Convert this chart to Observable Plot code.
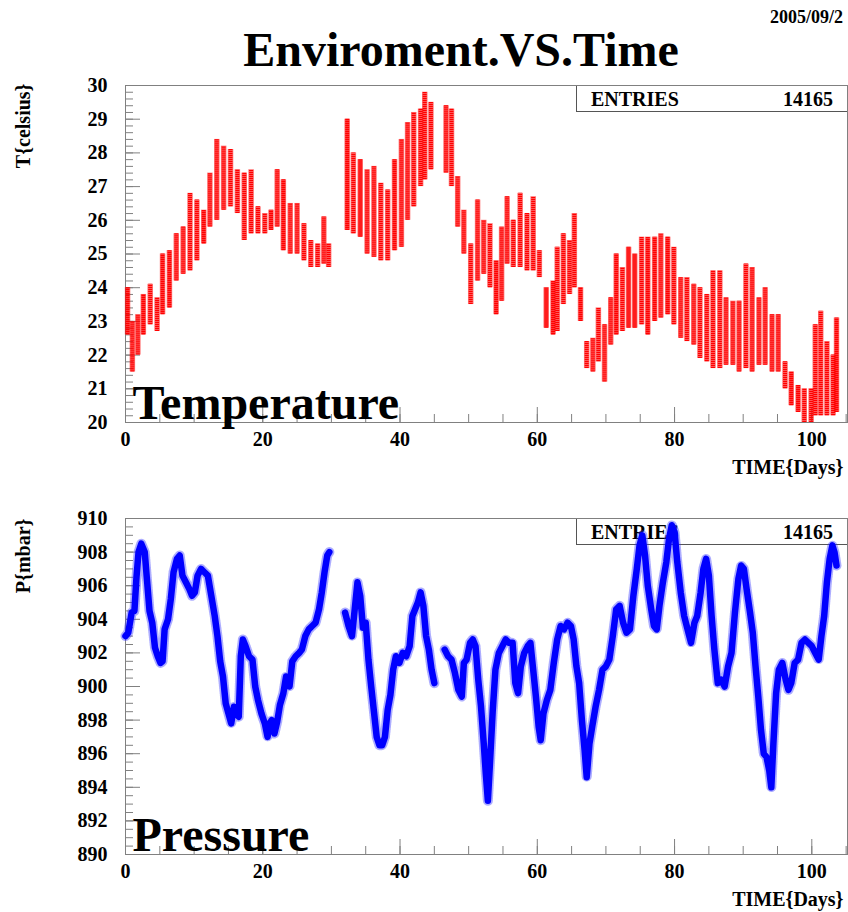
<!DOCTYPE html>
<html>
<head>
<meta charset="utf-8">
<script src="https://cdn.jsdelivr.net/npm/d3@7"></script>
<script src="https://cdn.jsdelivr.net/npm/@observablehq/plot@0.6"></script>
<style>
  html, body { margin: 0; padding: 0; background: #fff; }
  #wrap { position: relative; width: 848px; height: 912px; overflow: hidden;
          font-family: "Liberation Serif", "Times New Roman", serif; font-weight: bold; color: #000; }
  .abs { position: absolute; white-space: nowrap; }
  .box { position: absolute; border: 1px solid #555; box-sizing: border-box; background: #fff; }
  svg { position: absolute; left: 0; }
</style>
</head>
<body>
<div id="wrap"></div>
<script>
// ---------- data ----------
const chartTitle = "Enviroment.VS.Time";
const dateStamp = "2005/09/2";
const entries = [14165, 14165];
const panelLabels = ["Temperature", "Pressure"];
const yTitles = ["T{celsius}", "P{mbar}"];
const xTitle = "TIME{Days}";

// temperature: day position, daily low and high (celsius)
const tempDays = [0.3, 1.0, 1.8, 2.6, 3.6, 4.6, 5.4, 6.4, 7.4, 8.4, 9.4, 10.4, 11.4, 12.3, 13.3, 14.3, 15.3, 16.3, 17.3, 18.3, 19.3, 20.3, 21.2, 22.1, 23.0, 24.0, 25.0, 26.0, 27.0, 28.0, 28.9, 29.6,
  32.3, 33.2, 34.2, 35.2, 36.2, 37.2, 38.2, 39.2, 40.2, 41.1, 42.0, 43.0, 43.6, 44.5,
  46.7, 47.5, 48.4, 49.3, 50.3, 51.3, 52.2, 53.1, 54.0, 54.8, 55.6, 56.5, 57.5, 58.5, 59.4, 60.3, 61.3, 62.3, 62.9, 63.8, 64.7, 65.4, 66.3, 67.2, 68.1, 68.9, 69.8, 70.7, 71.5, 72.4, 73.3, 74.2, 75.2, 76.1, 77.1, 78.0, 79.0, 79.9, 80.9, 81.8, 82.8, 83.7, 84.7, 85.6, 86.6, 87.5, 88.5, 89.4, 90.4, 91.3, 92.3, 93.2, 94.2, 95.1, 96.1, 97.0, 98.0, 98.9, 99.9, 100.5, 101.3, 102.2, 103.1, 103.6];
const tempLow = [22.6, 21.5, 22.0, 22.6, 22.9, 22.7, 23.2, 23.4, 24.2, 24.4, 24.5, 24.8, 25.3, 25.8, 26.0, 26.3, 26.4, 26.2, 25.4, 25.6, 25.6, 25.6, 25.7, 25.8, 25.1, 25.0, 25.0, 24.8, 24.6, 24.6, 24.7, 24.6,
  25.7, 25.6, 25.5, 25.0, 24.9, 24.8, 24.8, 25.1, 25.2, 26.0, 26.4, 27.0, 27.2, 27.5,
  27.4, 27.0, 25.8, 25.0, 23.5, 24.2, 24.4, 24.0, 23.2, 23.6, 24.7, 24.6, 24.6, 24.5, 24.5, 24.3, 22.8, 22.6, 22.7, 23.5, 23.8, 24.0, 23.0, 21.6, 21.5, 21.8, 21.2, 22.3, 22.6, 22.7, 22.8, 22.8, 22.9, 22.6, 23.0, 23.1, 23.2, 22.9, 22.5, 22.4, 22.3, 21.9, 21.8, 21.6, 21.6, 21.7, 21.7, 21.5, 21.6, 21.5, 21.7, 21.7, 21.5, 21.5, 21.0, 20.5, 20.3, 20.0, 20.0, 20.2, 20.2, 20.2, 20.2, 20.3];
const tempHigh = [24.0, 23.0, 23.2, 23.8, 24.1, 23.7, 25.0, 25.1, 25.6, 25.8, 26.8, 26.6, 26.3, 27.4, 28.4, 28.2, 28.1, 27.5, 27.4, 27.5, 26.4, 26.2, 26.3, 27.5, 27.2, 26.5, 26.5, 25.9, 25.4, 25.3, 26.1, 25.3,
  29.0, 28.0, 27.8, 27.5, 27.6, 27.1, 26.9, 27.8, 28.4, 28.9, 29.2, 29.3, 29.8, 29.5,
  29.4, 29.3, 27.3, 26.3, 25.3, 26.6, 26.0, 25.9, 24.8, 25.8, 26.7, 26.0, 26.8, 26.2, 26.7, 25.1, 24.0, 24.2, 25.2, 25.6, 25.4, 26.2, 24.0, 22.4, 22.5, 23.4, 22.9, 23.7, 25.0, 24.6, 25.2, 25.0, 25.5, 25.5, 25.5, 25.6, 25.5, 25.2, 24.3, 24.3, 24.1, 24.0, 23.8, 24.5, 24.5, 23.7, 23.6, 23.6, 24.7, 24.6, 23.7, 24.0, 23.2, 23.2, 21.8, 21.5, 21.1, 21.0, 21.0, 22.9, 23.3, 22.4, 22.0, 23.1];

// pressure: traced path (day, mbar); null marks the data gaps
const presDays = [0.0, 0.4, 0.9, 1.3, 1.6, 1.9, 2.3, 2.8, 3.1, 3.5, 3.9, 4.3, 4.7, 5.1, 5.4, 5.7, 6.2, 6.6, 7.0, 7.5, 7.9, 8.3, 8.8, 9.3, 9.7, 10.1, 10.5, 11.0, 11.5, 12.0, 12.5, 13.0, 13.4, 13.8, 14.2, 14.6, 15.0, 15.4, 15.8, 16.1, 16.5, 16.8, 17.1, 17.5, 18.0, 18.5, 18.9, 19.3, 19.8, 20.3, 20.7, 21.0, 21.3, 21.7, 22.1, 22.5, 23.0, 23.4, 23.9, 24.3, 24.8, 25.3, 25.7, 26.2, 26.7, 27.2, 27.7, 28.2, 28.6, 29.0, 29.4, 29.7,
  30.8,
  32.0, 32.5, 33.0, 33.4, 33.8, 34.2, 34.6, 35.0, 35.4, 35.8, 36.2, 36.6, 37.0, 37.4, 37.8, 38.2, 38.6, 39.0, 39.4, 39.9, 40.4, 40.9, 41.4, 41.8, 42.2, 42.6, 43.0, 43.4, 43.8, 44.2, 44.6, 45.0,
  45.7,
  46.5, 47.0, 47.5, 48.0, 48.5, 49.0, 49.3, 49.7, 50.2, 50.6, 51.0, 51.4, 51.8, 52.2, 52.5, 52.8, 53.1, 53.5, 53.9, 54.4, 54.9, 55.4, 55.9, 56.4, 56.8, 57.2, 57.6, 58.1, 58.6, 59.0, 59.4, 59.8, 60.2, 60.5, 60.9, 61.4, 61.9, 62.4, 62.9, 63.4, 63.9, 64.4, 64.9, 65.3, 65.7, 66.1, 66.5, 66.9, 67.2, 67.6, 68.0, 68.5, 69.0, 69.5, 70.0, 70.5, 71.0, 71.5, 72.0, 72.5, 73.0, 73.5, 74.0, 74.5, 74.9, 75.3, 75.7, 76.1, 76.6, 77.0, 77.4, 77.8, 78.3, 78.8, 79.2, 79.6, 80.0, 80.4, 80.9, 81.4, 81.9, 82.4, 82.9, 83.3, 83.8, 84.2, 84.6, 85.0, 85.4, 85.8, 86.3, 86.8, 87.3, 87.8, 88.3, 88.8, 89.3, 89.7, 90.1, 90.5, 91.0, 91.4, 91.8, 92.2, 92.6, 93.0, 93.4, 93.8, 94.1, 94.4, 94.8, 95.2, 95.7, 96.2, 96.6, 97.0, 97.5, 98.0, 98.5, 99.0, 99.5, 100.0, 100.5, 101.0, 101.4, 101.8, 102.2, 102.6, 103.0, 103.3, 103.6];
const presVals = [903.0, 903.2, 904.4, 904.5, 906.5, 908.0, 908.5, 908.0, 906.5, 904.5, 903.8, 902.3, 901.8, 901.4, 901.5, 903.4, 904.0, 905.2, 906.8, 907.6, 907.8, 906.6, 906.2, 905.8, 905.4, 905.6, 906.6, 907.0, 906.8, 906.6, 905.4, 904.2, 903.0, 901.5, 900.6, 899.0, 898.4, 897.8, 898.8, 898.4, 898.2, 901.8, 902.8, 902.4, 901.8, 901.6, 900.0, 899.2, 898.4, 897.8, 897.0, 897.8, 898.0, 897.2, 897.9, 898.9, 899.6, 900.6, 900.0, 901.5, 901.8, 902.0, 902.2, 903.0, 903.4, 903.6, 903.8, 904.6, 905.6, 906.8, 907.8, 908.0,
  null,
  904.4, 903.6, 903.0, 904.6, 906.2, 905.4, 903.5, 903.8, 901.6, 900.0, 898.5, 897.0, 896.5, 896.5, 897.0, 898.6, 899.5, 901.0, 901.8, 901.4, 902.0, 901.8, 902.4, 904.2, 904.6, 905.0, 905.6, 904.8, 903.0, 902.2, 901.0, 900.2,
  null,
  902.2, 901.8, 901.6, 900.8, 899.8, 899.4, 901.4, 901.6, 902.6, 902.8, 902.4, 900.4, 898.8, 896.6, 894.8, 893.2, 895.4, 898.5, 901.0, 902.0, 902.4, 902.8, 902.6, 902.6, 900.2, 899.6, 901.2, 902.0, 902.4, 902.6, 901.0, 899.4, 897.6, 896.8, 898.4, 899.2, 899.8, 901.4, 902.8, 903.6, 903.4, 903.8, 903.6, 902.8, 901.2, 900.2, 898.0, 896.2, 894.6, 896.6, 897.6, 898.8, 899.8, 901.0, 901.2, 901.6, 903.0, 904.6, 904.8, 903.8, 903.2, 903.4, 905.4, 907.0, 908.4, 909.0, 907.8, 906.0, 904.6, 903.6, 903.4, 904.8, 906.2, 907.4, 908.8, 909.6, 909.2, 907.4, 905.6, 904.2, 903.4, 902.6, 903.8, 904.2, 905.6, 907.0, 907.6, 906.6, 904.2, 902.2, 900.2, 900.4, 900.0, 901.2, 902.0, 904.4, 906.4, 907.2, 907.0, 905.8, 904.4, 903.2, 901.2, 899.4, 897.4, 896.0, 895.8, 895.0, 894.0, 896.6, 899.6, 901.0, 901.4, 900.4, 899.8, 900.2, 901.4, 901.6, 902.6, 902.8, 902.6, 902.4, 902.0, 901.6, 903.0, 904.2, 906.2, 907.6, 908.4, 908.0, 907.2];

// axis ticks
const xMajor = [0, 20, 40, 60, 80, 100];
const xMinor = d3.range(0, 105.01, 5);
const tempMajor = [20, 21, 22, 23, 24, 25, 26, 27, 28, 29, 30];
const tempMinor = d3.range(20, 30.001, 0.2);
const presMajor = [890, 892, 894, 896, 898, 900, 902, 904, 906, 908, 910];
const presMinor = d3.range(890, 910.001, 0.5);

// ---------- build ----------
const FONT = '"Liberation Serif", "Times New Roman", serif';
const wrap = document.getElementById("wrap");

function addDiv(cls, css, text) {
  const el = document.createElement("div");
  el.className = cls;
  Object.assign(el.style, css);
  if (text != null) el.textContent = text;
  wrap.appendChild(el);
  return el;
}

// title and date
addDiv("abs", {left: "0px", width: "922px", top: "26px", fontSize: "48px", lineHeight: "48px", textAlign: "center"}, chartTitle);
addDiv("abs", {left: "770px", top: "8px", fontSize: "18px", lineHeight: "18px"}, dateStamp);

// entries boxes (behind the data)
function entriesBox(top, n) {
  const b = addDiv("box", {left: "576px", top: top + "px", width: "272px", height: "27px"});
  const t1 = document.createElement("div");
  Object.assign(t1.style, {position: "absolute", left: "14px", top: "2px", fontSize: "20px", lineHeight: "22px"});
  t1.textContent = "ENTRIES";
  const t2 = document.createElement("div");
  Object.assign(t2.style, {position: "absolute", right: "14px", top: "2px", fontSize: "20px", lineHeight: "22px"});
  t2.textContent = String(n);
  b.appendChild(t1); b.appendChild(t2);
}
entriesBox(85, entries[0]);
entriesBox(518, entries[1]);

const tempData = tempDays.map((d, i) => ({d, lo: tempLow[i], hi: tempHigh[i]}));
const presData = presDays.map((d, i) => ({d, p: presVals[i]}));

function makePanel(o) {
  const fw = 848 - 125 - 1;
  const fh = o.height - o.mt - o.mb;
  const svg = Plot.plot({
    width: 848, height: o.height,
    marginLeft: 125, marginRight: 1, marginTop: o.mt, marginBottom: o.mb,
    style: {background: "transparent", fontFamily: FONT, fontWeight: "bold", fontSize: "20px", color: "#000", overflow: "visible"},
    x: {domain: [0, 105.2], axis: null},
    y: {domain: o.yDomain, axis: null},
    marks: [
      Plot.frame({stroke: "#808080"}),
      Plot.tickX(xMinor, {x: d => d, stroke: "#808080", insetTop: fh - 8}),
      Plot.tickX(xMajor, {x: d => d, stroke: "#808080", insetTop: fh - 15}),
      Plot.tickY(o.yMinor, {y: d => d, stroke: "#808080", insetRight: fw - 8}),
      Plot.tickY(o.yMajor, {y: d => d, stroke: "#808080", insetRight: fw - 15}),
      Plot.axisX(xMajor, {tickSize: 0, tickPadding: 9, label: null, fill: "#000"}),
      Plot.axisY(o.yMajor, {tickSize: 0, tickPadding: 18, label: null, fill: "#000"}),
      ...o.marks,
      Plot.text([o.label], {frameAnchor: "bottom-left", dx: 7, dy: -4, lineAnchor: "bottom", textAnchor: "start", fontSize: 48, fontWeight: "bold", fill: "#000"}),
      Plot.text([o.yTitle], {frameAnchor: "top-left", rotate: -90, textAnchor: "end", lineAnchor: "middle", dx: -102, dy: o.titleDy, fill: "#000"}),
      Plot.text([xTitle], {frameAnchor: "bottom-right", textAnchor: "end", lineAnchor: "middle", dx: -4, dy: 45, fill: "#000"})
    ]
  });
  svg.style.top = o.top + "px";
  wrap.appendChild(svg);
}

makePanel({
  top: 75, height: 405, mt: 10, mb: 58,
  yDomain: [20, 30], yMajor: tempMajor, yMinor: tempMinor,
  label: panelLabels[0], yTitle: yTitles[0], titleDy: -2,
  marks: [
    Plot.ruleX(tempData, {x: "d", y1: "lo", y2: "hi", stroke: "#ff0000", strokeWidth: 5.5, strokeOpacity: 0.55}),
    Plot.ruleX(tempData, {x: "d", y1: "lo", y2: "hi", stroke: "#ff0000", strokeWidth: 4, strokeDasharray: "1.3 0.7"})
  ]
});

makePanel({
  top: 480, height: 432, mt: 38, mb: 58,
  yDomain: [890, 910], yMajor: presMajor, yMinor: presMinor,
  label: panelLabels[1], yTitle: yTitles[1], titleDy: 0,
  marks: [
    Plot.line(presData, {x: "d", y: "p", stroke: "#3333ff", strokeWidth: 10, strokeOpacity: 0.4, strokeDasharray: "1 1.5"}),
    Plot.line(presData, {x: "d", y: "p", stroke: "#0000ff", strokeWidth: 6.5, strokeLinejoin: "round"})
  ]
});
</script>
</body>
</html>
